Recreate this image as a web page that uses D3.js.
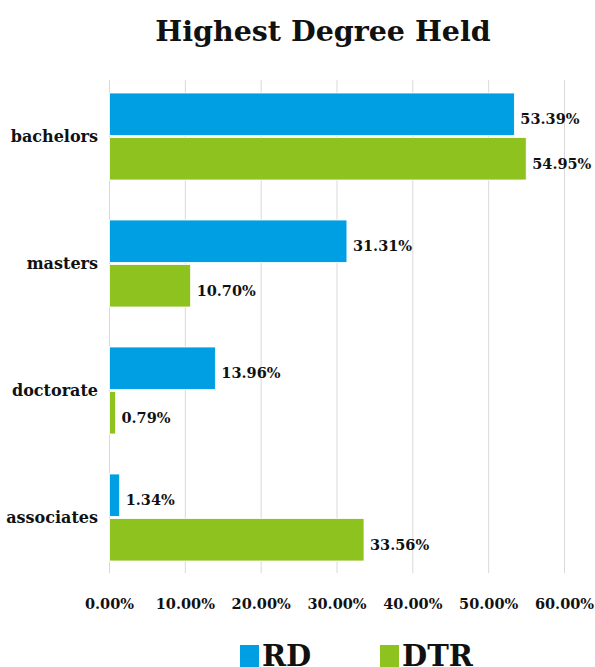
<!DOCTYPE html>
<html lang="en">
<head>
    <meta charset="UTF-8">
    <title>Highest Degree Held</title>
    <script src="https://cdnjs.cloudflare.com/ajax/libs/d3/7.6.1/d3.min.js"></script>
    <style>
        body { margin: 0; background: #fff; }
        text { font-family: "DejaVu Serif", serif; font-weight: bold; fill: #111; }
    </style>
</head>
<body>
<svg id="chart" width="595" height="667"></svg>
<script>
    // data
    const categories = ["bachelors", "masters", "doctorate", "associates"]
    const seriesNames = ["RD", "DTR"]
    const rdValues = [53.39, 31.31, 13.96, 1.34]
    const dtrValues = [54.95, 10.70, 0.79, 33.56]
    const xTicks = [0, 10, 20, 30, 40, 50, 60]
    const colors = ["#009fe3", "#8dc21f"]

    const svg = d3.select("#chart")

    const x = d3.scaleLinear().domain([0, 60]).range([109.5, 564.5])
    const y = d3.scaleBand().domain(categories).range([73, 581])
        .paddingInner(0.315).paddingOuter(0.1575)
    const ySub = d3.scaleBand().domain(seriesNames).range([0, y.bandwidth()]).paddingInner(0.05)

    // title
    svg.append("text")
        .attr("x", 323).attr("y", 41)
        .attr("text-anchor", "middle")
        .style("font-size", "28.5px")
        .text("Highest Degree Held")

    // gridlines
    svg.append("g")
        .selectAll("line")
        .data(xTicks)
        .join("line")
        .attr("x1", d => x(d)).attr("x2", d => x(d))
        .attr("y1", 80).attr("y2", 573)
        .style("stroke", "#d9d9d9")
        .style("stroke-width", 1)

    // x tick labels
    svg.append("g")
        .selectAll("text")
        .data(xTicks)
        .join("text")
        .attr("x", d => x(d)).attr("y", 609)
        .attr("text-anchor", "middle")
        .style("font-size", "14.5px")
        .text(d => d.toFixed(2) + "%")

    // category labels
    svg.append("g")
        .selectAll("text")
        .data(categories)
        .join("text")
        .attr("x", 98)
        .attr("y", d => y(d) + y.bandwidth() / 2)
        .attr("dy", "0.35em")
        .attr("text-anchor", "end")
        .style("font-size", "16px")
        .text(d => d)

    // bars
    const rows = []
    categories.forEach((c, i) => {
        rows.push({cat: c, s: "RD", v: rdValues[i], col: colors[0]})
        rows.push({cat: c, s: "DTR", v: dtrValues[i], col: colors[1]})
    })

    svg.append("g")
        .selectAll("rect")
        .data(rows)
        .join("rect")
        .attr("x", x(0))
        .attr("y", d => y(d.cat) + ySub(d.s))
        .attr("width", d => x(d.v) - x(0))
        .attr("height", ySub.bandwidth())
        .style("fill", d => d.col)
        .style("stroke", "#fff")
        .style("stroke-width", 0.8)

    svg.append("g")
        .selectAll("text")
        .data(rows)
        .join("text")
        .attr("x", d => x(d.v) + 6)
        .attr("y", d => y(d.cat) + ySub(d.s) + ySub.bandwidth() / 2 + 5)
        .attr("dy", "0.35em")
        .style("font-size", "14.5px")
        .text(d => d.v.toFixed(2) + "%")

    // legend
    const legend = svg.append("g")
    const legX = [240, 380]
    seriesNames.forEach((s, i) => {
        legend.append("rect")
            .attr("x", legX[i]).attr("y", 645)
            .attr("width", 19).attr("height", 22)
            .style("fill", colors[i])
        legend.append("text")
            .attr("x", legX[i] + 22).attr("y", 666)
            .style("font-size", "29px")
            .text(s)
    })
</script>
</body>
</html>
